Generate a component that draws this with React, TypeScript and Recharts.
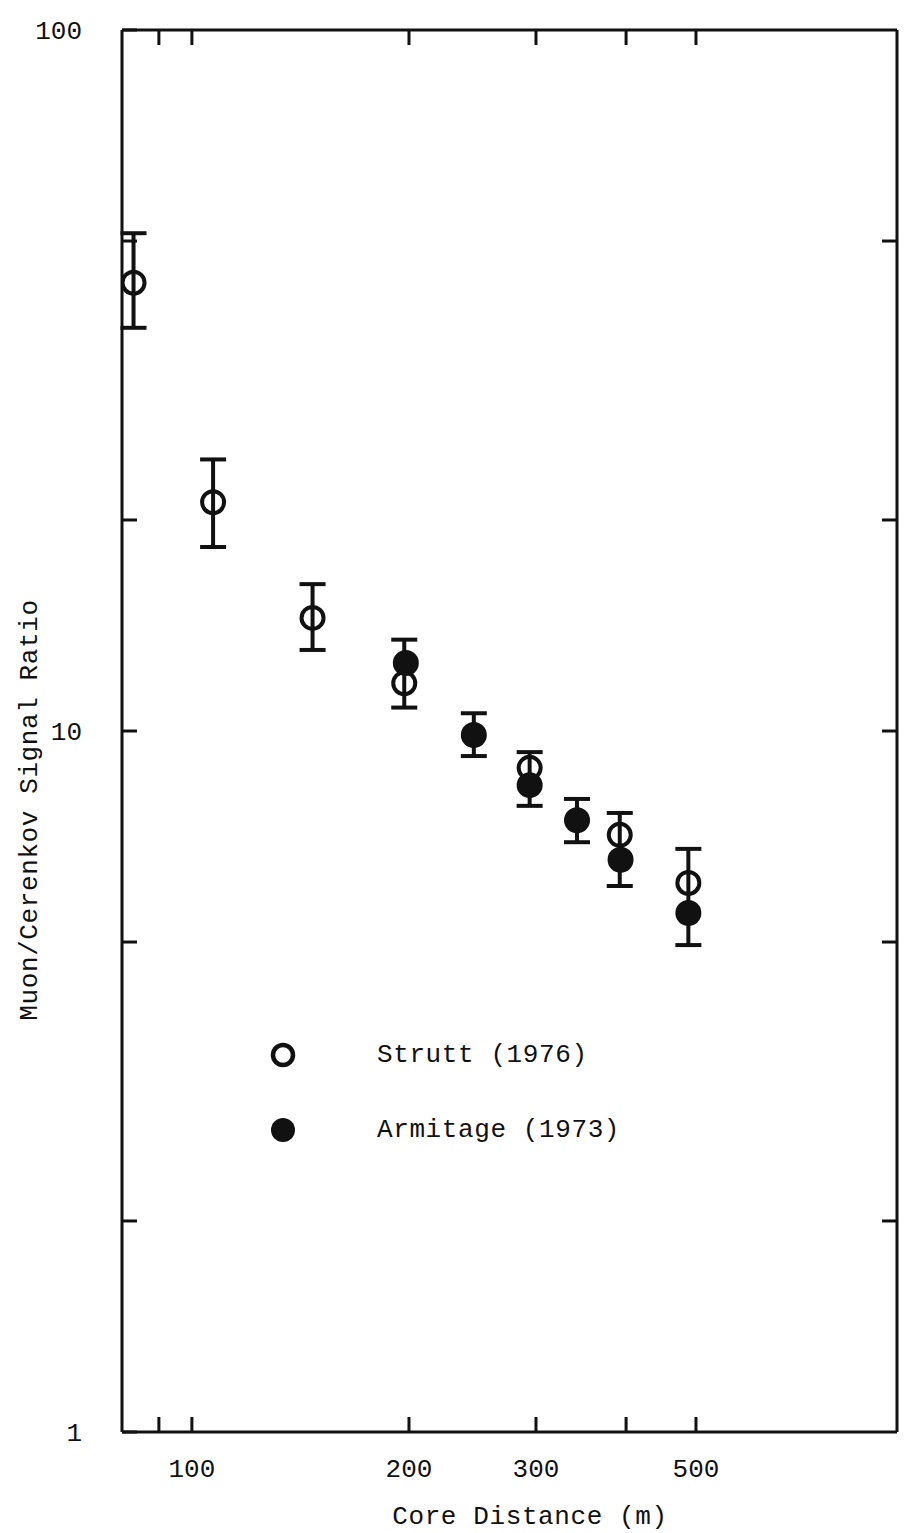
import { ErrorBar, Legend, Scatter, ScatterChart, XAxis, YAxis } from "recharts";

// Strutt (1976) – open circles
const struttDistance = [83, 107, 147, 197, 294, 392, 488];
const struttRatio = [43.6, 21.2, 14.5, 11.7, 8.86, 7.11, 6.07];
const struttBarTop = [51.3, 24.4, 16.2, 13.5, 9.33, 7.64, 6.79];
const struttBarBottom = [37.6, 18.3, 13.05, 10.8, 7.82, 6.01, 4.95];

// Armitage (1973) – filled circles
const armitageDistance = [198, 246, 294, 342, 393, 488];
const armitageRatio = [12.5, 9.87, 8.37, 7.46, 6.55, 5.5];
const armitageBarTop = [null, 10.6, null, 8.0, null, null];
const armitageBarBottom = [null, 9.21, null, 6.94, null, null];

const xTicks = [90, 100, 200, 300, 400, 500];
const xLabelled = [100, 200, 300, 500];
const yTicks = [1, 2, 5, 10, 20, 50, 100];
const yLabelled = [1, 10, 100];

const FONT = "'Liberation Mono', 'DejaVu Sans Mono', monospace";
const INK = "#111";

const toRows = (
  xs: number[],
  ys: number[],
  tops: (number | null)[],
  bottoms: (number | null)[]
) =>
  xs.map((x, i) => {
    const top = tops[i];
    const bottom = bottoms[i];
    return {
      x,
      y: ys[i],
      err: top != null && bottom != null ? [ys[i] - bottom, top - ys[i]] : null,
    };
  });

const struttData = toRows(struttDistance, struttRatio, struttBarTop, struttBarBottom);
const armitageData = toRows(armitageDistance, armitageRatio, armitageBarTop, armitageBarBottom);

const OpenDot = (p: any) => (
  <circle cx={p.cx} cy={p.cy} r={11} fill="none" stroke={INK} strokeWidth={4} />
);
const FilledDot = (p: any) => <circle cx={p.cx} cy={p.cy} r={13} fill={INK} />;

const legendItems = [
  { name: "Strutt (1976)", open: true },
  { name: "Armitage (1973)", open: false },
];

const renderLegend = () => (
  <div style={{ fontFamily: FONT, fontSize: 26, color: INK, letterSpacing: 0.6 }}>
    {legendItems.map((it) => (
      <div key={it.name} style={{ display: "flex", alignItems: "center", height: 75 }}>
        <svg width={30} height={30}>
          {it.open ? (
            <circle cx={15} cy={15} r={10} fill="none" stroke={INK} strokeWidth={4.5} />
          ) : (
            <circle cx={15} cy={15} r={12} fill={INK} />
          )}
        </svg>
        <span style={{ marginLeft: 79 }}>{it.name}</span>
      </div>
    ))}
  </div>
);

const axisLine = { stroke: INK, strokeWidth: 3 };
const tickLine = { stroke: INK, strokeWidth: 3 };
const tickText = { fontFamily: FONT, fontSize: 26, fill: INK };

export default function App() {
  return (
    <div style={{ position: "absolute", left: 0, top: 0, background: "#fff" }}>
      <ScatterChart
        width={904}
        height={1533}
        margin={{ top: 29, right: 6, bottom: 6, left: 62 }}
      >
        <XAxis
          xAxisId="b"
          type="number"
          dataKey="x"
          scale="log"
          domain={[80, 950]}
          ticks={xTicks}
          tickFormatter={(v: number) => (xLabelled.includes(v) ? String(v) : "")}
          tickSize={-15}
          tickMargin={42}
          height={95}
          axisLine={axisLine}
          tickLine={tickLine}
          tick={tickText}
          allowDataOverflow
          label={{
            content: () => (
              <text
                x={530}
                y={1524}
                textAnchor="middle"
                fontFamily={FONT}
                fontSize={26}
                letterSpacing={0.6}
                fill={INK}
              >
                Core Distance (m)
              </text>
            ),
          }}
        />
        <XAxis
          xAxisId="t"
          orientation="top"
          type="number"
          dataKey="x"
          scale="log"
          domain={[80, 950]}
          ticks={xTicks}
          tickFormatter={() => ""}
          tickSize={-15}
          height={1}
          axisLine={axisLine}
          tickLine={tickLine}
          allowDataOverflow
        />
        <YAxis
          yAxisId="l"
          type="number"
          dataKey="y"
          scale="log"
          domain={[1, 100]}
          ticks={yTicks}
          tickFormatter={(v: number) => (yLabelled.includes(v) ? String(v) : "")}
          tickSize={-15}
          tickMargin={55}
          width={60}
          axisLine={axisLine}
          tickLine={tickLine}
          tick={tickText}
          allowDataOverflow
          label={{
            content: () => (
              <text
                x={30}
                y={810}
                transform="rotate(-90 30 810)"
                textAnchor="middle"
                dominantBaseline="central"
                fontFamily={FONT}
                fontSize={26}
                letterSpacing={0.6}
                fill={INK}
              >
                Muon/Cerenkov Signal Ratio
              </text>
            ),
          }}
        />
        <YAxis
          yAxisId="r"
          orientation="right"
          type="number"
          dataKey="y"
          scale="log"
          domain={[1, 100]}
          ticks={[2, 5, 10, 20, 50]}
          tickFormatter={() => ""}
          tickSize={-15}
          width={1}
          axisLine={axisLine}
          tickLine={tickLine}
          allowDataOverflow
        />
        <Legend
          content={renderLegend}
          layout="vertical"
          align="center"
          verticalAlign="middle"
          wrapperStyle={{ left: 268, top: 1017, width: 400 }}
        />
        <Scatter
          name="Armitage (1973)"
          data={armitageData}
          xAxisId="b"
          yAxisId="l"
          shape={FilledDot}
          isAnimationActive={false}
        >
          <ErrorBar dataKey="err" direction="y" width={13} stroke={INK} strokeWidth={4} />
        </Scatter>
        <Scatter
          name="Strutt (1976)"
          data={struttData}
          xAxisId="b"
          yAxisId="l"
          shape={OpenDot}
          isAnimationActive={false}
        >
          <ErrorBar dataKey="err" direction="y" width={13} stroke={INK} strokeWidth={4} />
        </Scatter>
      </ScatterChart>
    </div>
  );
}
